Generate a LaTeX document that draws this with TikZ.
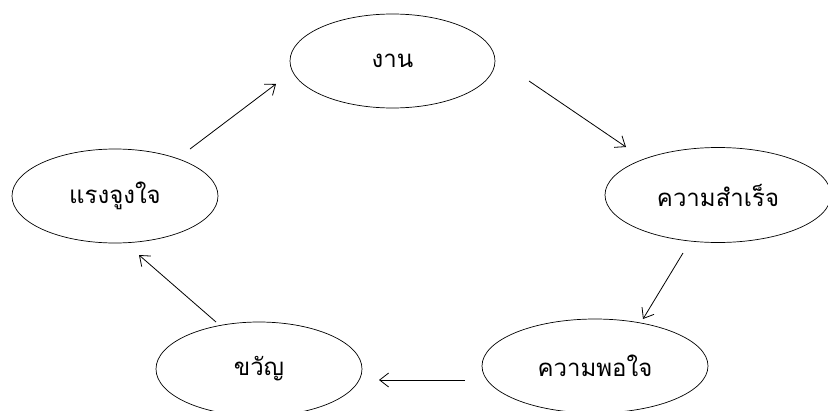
\documentclass[tikz,border=0pt]{standalone}
\usepackage{fontspec}
\newfontfamily\thaifont[Script=Thai]{Loma}
\usetikzlibrary{shapes.geometric,arrows.meta}
\begin{document}
\begin{tikzpicture}[x=1pt,y=-1pt,
  bubble/.style={draw,line width=0.7pt,ellipse,inner sep=0pt,font=\thaifont\fontsize{24}{28}\selectfont},
  flow/.style={line width=0.8pt,-{Straight Barb[length=9pt,width=14pt,line width=0.8pt]}}]
\useasboundingbox (0,0) rectangle (828,410);
\clip (0,0) rectangle (828,410);
\node[bubble,minimum width=205pt,minimum height=94pt] (ngan) at (392.5,61) {งาน};
\node[bubble,minimum width=206pt,minimum height=94pt] (raeng) at (115,196) {แรงจูงใจ};
\node[bubble,minimum width=226pt,minimum height=95pt] (samret) at (718,195) {ความสำเร็จ};
\node[bubble,minimum width=226pt,minimum height=94pt] (phochai) at (595,366) {ความพอใจ};
\node[bubble,minimum width=206pt,minimum height=94pt] (khwan) at (259,369) {ขวัญ};
\coordinate (a1s) at (190,149); \coordinate (a1e) at (276,84);
\coordinate (a2s) at (529,81);  \coordinate (a2e) at (626,147);
\coordinate (a3s) at (683,253); \coordinate (a3e) at (643,319);
\coordinate (a4s) at (465,380); \coordinate (a4e) at (379,380);
\coordinate (a5s) at (216,322); \coordinate (a5e) at (139,255);
\draw[flow] (a1s) -- (a1e);
\draw[flow] (a2s) -- (a2e);
\draw[flow] (a3s) -- (a3e);
\draw[flow] (a4s) -- (a4e);
\draw[flow] (a5s) -- (a5e);
\end{tikzpicture}
\end{document}
